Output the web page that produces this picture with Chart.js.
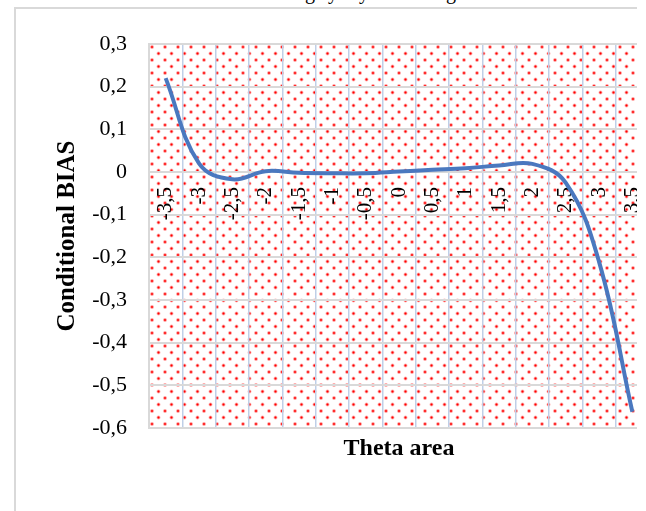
<!DOCTYPE html>
<html>
<head>
<meta charset="utf-8">
<script src="https://cdn.jsdelivr.net/npm/chart.js@4/dist/chart.umd.min.js"></script>
<style>
  html, body { margin: 0; padding: 0; background: #fff; }
  #wrap { position: absolute; left: 0; top: 0; width: 637px; height: 511px; overflow: hidden; background: #fff; }
  #frame { position: absolute; left: 14px; top: 7px; width: 700px; height: 600px; border-left: 2px solid #d9d9d9; border-top: 2px solid #d9d9d9; }
  #cut { position: absolute; left: 0; top: -18px; font: 20px "Liberation Serif", serif; line-height: 20px; color: #000; }
  #cut span { position: absolute; top: 0; }
  canvas { position: absolute; left: 0; top: 0; }
</style>
</head>
<body>
<div id="wrap">
  <div id="cut" aria-hidden="true"><span style="left:305px">g</span><span style="left:328px">y</span><span style="left:359px">y</span><span style="left:446px">g</span></div>
  <div id="frame"></div>
  <canvas id="c" width="660" height="511"></canvas>
</div>
<script>
// ---- data ----
const thetaLabels = ['-3,5', '-3', '-2,5', '-2', '-1,5', '-1', '-0,5', '0', '0,5', '1', '1,5', '2', '2,5', '3', '3,5'];
const conditionalBias = [0.22, 0.02, -0.017, 0.002, -0.002, -0.003, -0.003, 0.001, 0.005, 0.009, 0.015, 0.019, -0.025, -0.21, -0.562];
const yMin = -0.6;
const yMax = 0.3;
const yStep = 0.1;
const xTitle = 'Theta area';
const yTitle = 'Conditional BIAS';

const SERIF = '"Liberation Serif", "Times New Roman", serif';

function makePattern(ctx) {
  const T = 13;
  const c = document.createElement('canvas');
  c.width = T; c.height = T;
  const g = c.getContext('2d');
  g.fillStyle = '#fff';
  g.fillRect(0, 0, T, T);
  const pts = [[3, 3], [9.5, 9.5]];
  pts.forEach(([x, y]) => {
    const grad = g.createRadialGradient(x, y, 0, x, y, 2.5);
    grad.addColorStop(0, 'rgba(255,0,0,1)');
    grad.addColorStop(0.35, 'rgba(255,20,20,0.85)');
    grad.addColorStop(0.7, 'rgba(255,90,90,0.35)');
    grad.addColorStop(1, 'rgba(255,140,140,0)');
    g.fillStyle = grad;
    g.beginPath();
    g.arc(x, y, 2.5, 0, Math.PI * 2);
    g.fill();
  });
  return ctx.createPattern(c, 'repeat');
}

const bgPattern = {
  id: 'bgPattern',
  beforeDraw(chart) {
    const { ctx, chartArea: a } = chart;
    ctx.save();
    const p = makePattern(ctx);
    ctx.translate(a.left, a.top);
    ctx.fillStyle = p;
    ctx.fillRect(0, 0, a.right - a.left, a.bottom - a.top);
    ctx.restore();
  }
};

const innerLabels = {
  id: 'innerLabels',
  beforeDatasetsDraw(chart) {
    const { ctx } = chart;
    const xs = chart.scales.x;
    const ys = chart.scales.y;
    const top = ys.getPixelForValue(0) + 15;
    ctx.save();
    ctx.fillStyle = '#000';
    ctx.font = '21px ' + SERIF;
    ctx.textAlign = 'right';
    ctx.textBaseline = 'middle';
    thetaLabels.forEach((lab, i) => {
      const x = xs.getPixelForValue(i);
      ctx.save();
      ctx.translate(x, top);
      ctx.rotate(-Math.PI / 2);
      ctx.fillText(lab, 0, 0);
      ctx.restore();
    });
    ctx.restore();
  }
};

new Chart(document.getElementById('c'), {
  type: 'line',
  data: {
    labels: thetaLabels,
    datasets: [{
      data: conditionalBias,
      borderColor: '#4a78bf',
      borderWidth: 4,
      tension: 0.4,
      pointRadius: 0,
      fill: false
    }]
  },
  options: {
    responsive: false,
    animation: false,
    devicePixelRatio: 1,
    layout: { padding: { left: 0, top: 44, right: 11, bottom: 0 } },
    plugins: { legend: { display: false }, tooltip: { enabled: false } },
    scales: {
      x: {
        type: 'category',
        offset: true,
        grid: { offset: true, color: '#bfcfe7', lineWidth: 1.5, drawTicks: false },
        border: { display: false },
        ticks: { display: false },
        title: {
          display: true, text: xTitle, color: '#000',
          font: { family: SERIF, size: 24, weight: 'bold' },
          padding: { top: 0, bottom: 48 }
        },
        afterFit(s) { s.height = 83; }
      },
      y: {
        min: yMin, max: yMax,
        ticks: {
          stepSize: yStep, color: '#000', padding: 22,
          font: { family: SERIF, size: 22 },
          callback: v => String(Math.round(v * 10) / 10).replace('.', ',')
        },
        grid: { color: '#d9d9d9', lineWidth: 2, drawTicks: false },
        border: { color: '#d9d9d9', width: 2 },
        title: {
          display: true, text: yTitle, color: '#000',
          font: { family: SERIF, size: 25, weight: 'bold' },
          padding: { top: 53, bottom: 0 }
        },
        afterFit(s) { s.width = 149; }
      }
    }
  },
  plugins: [bgPattern, innerLabels]
});
</script>
</body>
</html>
